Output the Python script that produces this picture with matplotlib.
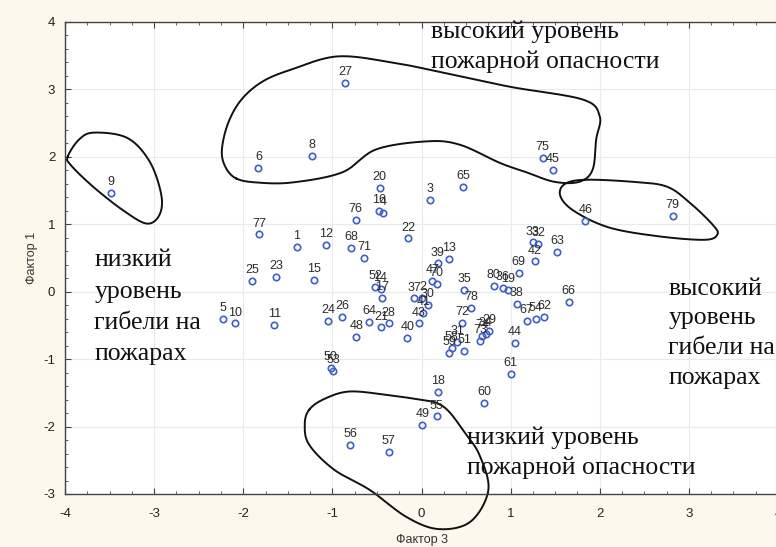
import numpy as np
import matplotlib.pyplot as plt
from matplotlib.ticker import AutoMinorLocator, FixedLocator

# point ids and their factor scores (Фактор 3, Фактор 1)
ids = [1, 2, 3, 4, 5, 6, 8, 9, 10, 11, 12, 13, 14, 15, 16, 17, 18, 19, 20,
       21, 22, 23, 24, 25, 26, 27, 28, 29, 30, 31, 32, 33, 34, 35, 36, 37,
       38, 39, 40, 41, 42, 43, 44, 45, 46, 47, 48, 49, 50, 51, 52, 53, 54,
       55, 56, 57, 58, 59, 60, 61, 62, 63, 64, 65, 66, 67, 68, 69, 70, 71,
       72, 73, 74, 75, 76, 77, 78, 79, 80]
f3 = [-1.40, 0.01, 0.10, -0.43, -2.23, -1.83, -1.23, -3.48, -2.09, -1.65,
      -1.07, 0.31, -0.46, -1.21, -0.48, -0.44, 0.18, 0.97, -0.47, -0.45,
      -0.15, -1.63, -1.05, -1.90, -0.89, -0.86, -0.37, 0.76, 0.07, 0.40,
      1.31, 1.25, 0.72, 0.48, 0.91, -0.08, 1.07, 0.18, -0.16, 0.02, 1.27,
      -0.03, 1.05, 1.47, 1.84, 0.12, -0.73, 0.01, -1.02, 0.48, -0.52, -0.99,
      1.28, 0.17, -0.80, -0.37, 0.34, 0.31, 0.70, 1.00, 1.38, 1.52, -0.59,
      0.47, 1.65, 1.18, -0.79, 1.09, 0.17, -0.64, 0.46, 0.66, 0.68, 1.36,
      -0.74, -1.82, 0.56, 2.82, 0.81]
f1 = [0.67, -0.09, 1.36, 1.17, -0.40, 1.84, 2.02, 1.47, -0.47, -0.49, 0.70,
      0.49, 0.04, 0.18, 1.20, -0.09, -1.48, 0.03, 1.54, -0.53, 0.79, 0.22,
      -0.43, 0.16, -0.37, 3.10, -0.47, -0.58, -0.19, -0.74, 0.71, 0.73,
      -0.62, 0.03, 0.06, -0.10, -0.18, 0.42, -0.68, -0.31, 0.45, -0.47,
      -0.76, 1.81, 1.05, 0.16, -0.67, -1.97, -1.13, -0.88, 0.07, -1.17,
      -0.40, -1.85, -2.27, -2.37, -0.83, -0.91, -1.65, -1.22, -0.37, 0.59,
      -0.45, 1.56, -0.15, -0.43, 0.65, 0.28, 0.12, 0.50, -0.46, -0.73,
      -0.65, 1.99, 1.07, 0.85, -0.24, 1.13, 0.09]

# hand-drawn group outlines (vertices, data units)
loop_left = [(-3.97, 2.00), (-3.84, 2.26), (-3.67, 2.36), (-3.30, 2.28),
             (-3.05, 1.93), (-2.92, 1.44), (-2.94, 1.14), (-3.08, 1.01),
             (-3.33, 1.19), (-3.67, 1.54), (-3.93, 1.87)]
loop_top = [(-2.08, 1.68), (-2.20, 1.85), (-2.24, 2.10), (-2.17, 2.50),
            (-2.02, 2.85), (-1.78, 3.12), (-1.45, 3.30), (-0.94, 3.49),
            (-0.33, 3.40), (0.24, 3.25), (0.99, 3.04), (1.81, 2.85),
            (2.00, 2.60), (1.96, 2.26), (1.92, 1.81), (1.77, 1.63),
            (1.49, 1.63), (1.18, 1.77), (0.88, 1.91), (0.43, 2.18),
            (0.06, 2.23), (-0.51, 2.11), (-0.89, 1.77), (-1.45, 1.62),
            (-1.85, 1.62)]
loop_right = [(1.83, 1.66), (2.37, 1.63), (2.75, 1.56), (3.01, 1.32),
              (3.27, 0.99), (3.32, 0.85), (3.18, 0.77), (2.67, 0.82),
              (2.11, 0.95), (1.72, 1.19), (1.56, 1.41), (1.60, 1.59)]
loop_bottom = [(-1.26, -1.75), (-1.09, -1.59), (-0.81, -1.48), (-0.39, -1.53),
               (-0.02, -1.60), (0.17, -1.65), (0.31, -1.78), (0.48, -2.08),
               (0.65, -2.42), (0.75, -2.94), (0.55, -3.41), (0.19, -3.52),
               (-0.17, -3.34), (-0.58, -2.94), (-0.98, -2.64), (-1.26, -2.27),
               (-1.31, -1.97)]


def smooth_closed(pts, n=30):
    # closed catmull-rom curve through the outline vertices
    P = np.asarray(pts, dtype=float)
    m = len(P)
    t = np.linspace(0, 1, n, endpoint=False)[:, None]
    out = []
    for i in range(m):
        p0, p1, p2, p3 = P[(i - 1) % m], P[i], P[(i + 1) % m], P[(i + 2) % m]
        out.append(0.5 * (2 * p1 + (-p0 + p2) * t
                          + (2 * p0 - 5 * p1 + 4 * p2 - p3) * t ** 2
                          + (-p0 + 3 * p1 - 3 * p2 + p3) * t ** 3))
    out = np.vstack(out)
    return np.vstack([out, out[:1]])


plt.rcParams['font.family'] = ['Liberation Sans', 'DejaVu Sans']

fig = plt.figure(figsize=(7.76, 5.47), dpi=100, facecolor='#fcf8ee')
ax = fig.add_axes([65 / 776, 53 / 547, 713 / 776, 472 / 547])
ax.set_facecolor('white')

ax.set_xlim(-4, 4)
ax.set_ylim(-3, 4)
xt = [-4, -3, -2, -1, 0, 1, 2, 3, 4]
yt = [-3, -2, -1, 0, 1, 2, 3, 4]
ax.xaxis.set_major_locator(FixedLocator(xt))
ax.yaxis.set_major_locator(FixedLocator(yt))
ax.set_xticklabels([str(v) for v in xt])
ax.set_yticklabels([str(v) for v in yt])
ax.xaxis.set_minor_locator(AutoMinorLocator(4))
ax.yaxis.set_minor_locator(AutoMinorLocator(5))
ax.tick_params(which='both', direction='in', top=True, right=False,
               color='#444444', labelsize=9.5, labelcolor='#222222')
ax.tick_params(which='major', length=4, width=0.8)
ax.tick_params(which='minor', length=2.5, width=0.6)
ax.tick_params(axis='x', which='major', pad=10)
ax.tick_params(axis='y', which='major', pad=7)
ax.grid(True, which='major', color='#e6ecee', linewidth=0.8)
ax.set_axisbelow(True)
for s in ax.spines.values():
    s.set_color('#444444')
    s.set_linewidth(1.0)

ax.set_xlabel('Фактор 3', fontsize=9, color='#333333', labelpad=10)
ax.set_ylabel('Фактор 1', fontsize=9, color='#333333', labelpad=4)

ax.plot(f3, f1, 'o', ms=4.6, mfc='none', mec='#3f5fc6', mew=1.2, zorder=3)
for n, x, y in zip(ids, f3, f1):
    ax.annotate(str(n), (x, y), xytext=(0, 3.5), textcoords='offset points',
                ha='center', va='bottom', fontsize=9, color='#2b2b2b',
                zorder=4)

for loop in (loop_left, loop_top, loop_right, loop_bottom):
    c = smooth_closed(loop)
    ax.plot(c[:, 0], c[:, 1], color='#111111', lw=1.4, clip_on=False,
            zorder=2)

serif = dict(family=['Liberation Serif', 'DejaVu Serif'], fontsize=18.5,
             color='#111111', va='top', ha='left', zorder=5)
ax.text(0.11, 4.02, 'высокий уровень\nпожарной опасности',
        linespacing=1.42, **serif)
ax.text(-3.67, 0.63, 'низкий\nуровень\nгибели на\nпожарах',
        linespacing=1.55, **serif)
ax.text(2.77, 0.21, 'высокий\nуровень\nгибели на\nпожарах',
        linespacing=1.45, clip_on=False, **serif)
ax.text(0.505, -2.0, 'низкий уровень\nпожарной опасности',
        linespacing=1.42, **serif)

fig.savefig('out.png', dpi=100, facecolor=fig.get_facecolor())
